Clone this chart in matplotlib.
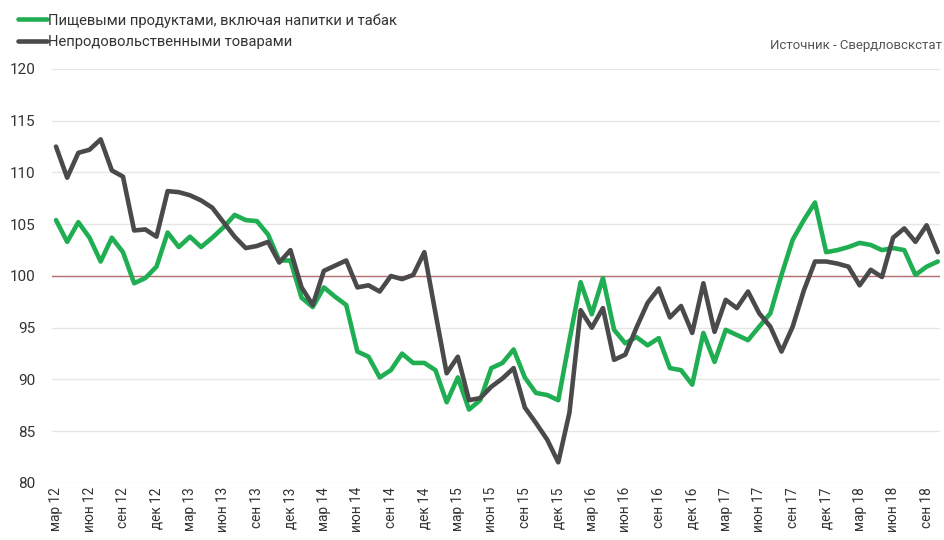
import matplotlib
matplotlib.use("Agg")
import matplotlib.pyplot as plt

plt.rcParams['font.family'] = ['Roboto', 'DejaVu Sans']

# monthly index values, mar 2012 .. oct 2018 (same month of previous year = 100)
months = ['янв', 'фев', 'мар', 'апр', 'май', 'июн',
          'июл', 'авг', 'сен', 'окт', 'ноя', 'дек']
start_year, start_month = 12, 3

food = [105.4, 103.3, 105.2, 103.7, 101.4, 103.7, 102.3, 99.3, 99.8, 100.9,
        104.2, 102.8, 103.8, 102.8, 103.7, 104.7, 105.9, 105.4, 105.3, 104.0,
        101.5, 101.5, 97.9, 97.0, 98.9, 98.0, 97.2, 92.7, 92.2, 90.2,
        90.9, 92.5, 91.6, 91.6, 90.9, 87.8, 90.2, 87.1, 88.0, 91.1,
        91.6, 92.9, 90.2, 88.7, 88.5, 88.0, 93.8, 99.4, 96.3, 99.8,
        94.8, 93.5, 94.1, 93.3, 94.0, 91.1, 90.9, 89.5, 94.5, 91.7,
        94.8, 94.3, 93.8, 95.1, 96.4, 100.1, 103.5, 105.4, 107.1, 102.3,
        102.5, 102.8, 103.2, 103.0, 102.5, 102.7, 102.5, 100.1, 100.9, 101.4]

nonfood = [112.5, 109.5, 111.9, 112.2, 113.2, 110.2, 109.6, 104.4, 104.5, 103.8,
           108.2, 108.1, 107.8, 107.3, 106.6, 105.2, 103.8, 102.7, 102.9, 103.3,
           101.3, 102.5, 98.9, 97.2, 100.5, 101.0, 101.5, 98.9, 99.1, 98.5,
           100.0, 99.7, 100.1, 102.3, 96.4, 90.6, 92.2, 88.0, 88.2, 89.3,
           90.1, 91.1, 87.3, 85.8, 84.2, 82.0, 86.8, 96.7, 95.0, 96.9,
           91.9, 92.4, 95.0, 97.4, 98.8, 96.0, 97.1, 94.5, 99.3, 94.6,
           97.7, 96.9, 98.5, 96.4, 95.1, 92.7, 95.1, 98.6, 101.4, 101.4,
           101.2, 100.9, 99.1, 100.6, 99.9, 103.7, 104.6, 103.3, 104.9, 102.3]

food_label = 'Пищевыми продуктами, включая напитки и табак'
nonfood_label = 'Непродовольственными товарами'
source_text = 'Источник - Свердловскстат'

labels = []
for i in range(len(food)):
    m = start_month - 1 + i
    labels.append(f'{months[m % 12]} {start_year + m // 12}')

x = list(range(len(food)))

fig = plt.figure(figsize=(9.45, 5.4), dpi=100)
ax = fig.add_axes([52 / 945, 57 / 540, 888 / 945, 414 / 540])

ax.axhline(100, color='#b5706f', lw=1.0, zorder=2)
ax.plot(x, food, color='#1fae52', lw=3.3, solid_joinstyle='round',
        solid_capstyle='round', label=food_label, zorder=3)
ax.plot(x, nonfood, color='#4a4a4c', lw=3.3, solid_joinstyle='round',
        solid_capstyle='round', label=nonfood_label, zorder=4)

ax.set_ylim(80, 120)
ax.set_yticks(range(80, 121, 5))
ax.set_xlim(-0.36, 79.2)
ax.set_xticks(x[::3])
ax.set_xticklabels(labels[::3], rotation=90, fontsize=9.8, color='#333333')
ax.tick_params(axis='y', labelsize=11, colors='#333333', length=0, pad=12)
ax.tick_params(axis='x', length=0, pad=3)
ax.grid(axis='y', color='#e6e6e6', lw=1.0, zorder=1)
ax.set_axisbelow(True)
for s in ax.spines.values():
    s.set_visible(False)

leg = fig.legend(loc='upper left', bbox_to_anchor=(0.008, 0.995), frameon=False,
                 fontsize=10.6, handlelength=2.0, handletextpad=0.05,
                 labelspacing=0.5, borderaxespad=0.3)
for t in leg.get_texts():
    t.set_color('#333333')

fig.text(942 / 945, 1 - 46 / 540, source_text, ha='right', va='center',
         fontsize=9.5, color='#555555')

fig.savefig('out.png', dpi=100)
